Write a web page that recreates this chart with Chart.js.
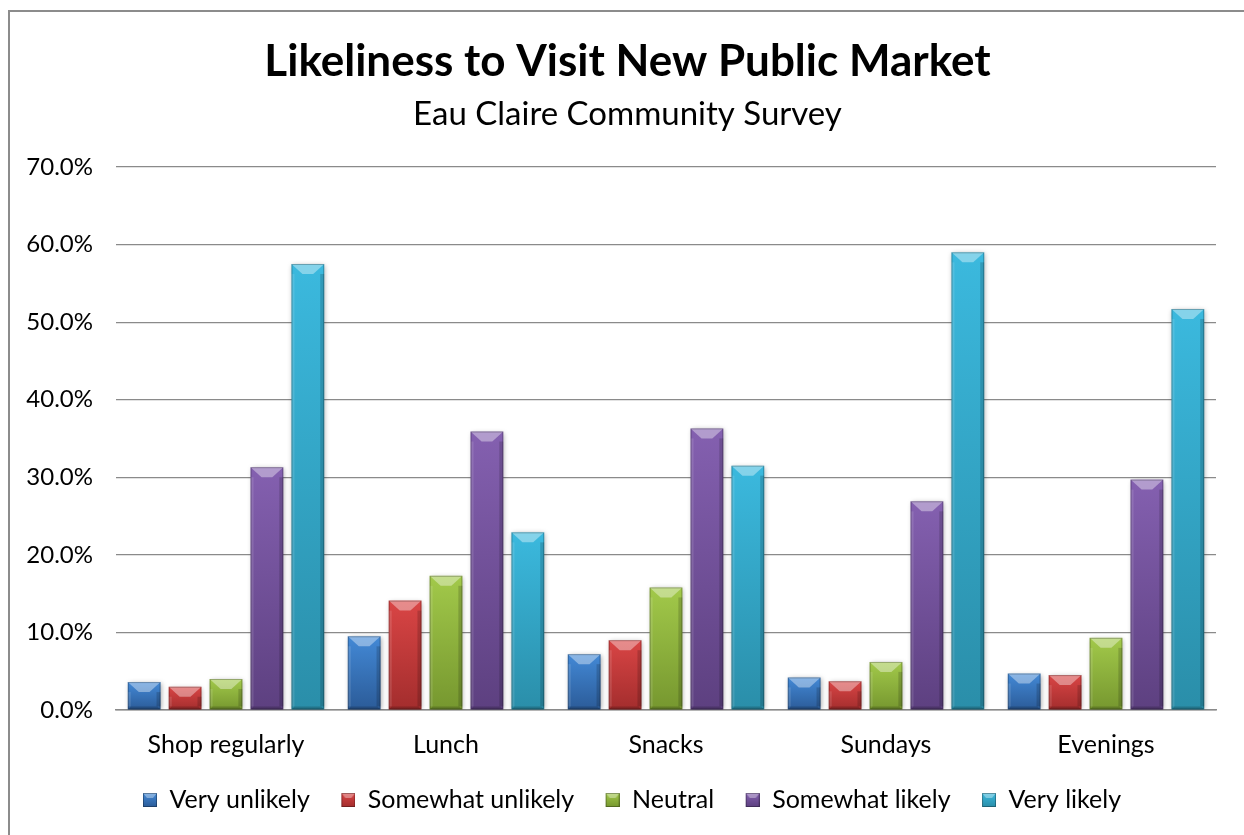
<!DOCTYPE html>
<html lang="en">
<head>
  <meta charset="UTF-8" />
  <title>Likeliness to Visit New Public Market</title>
  <script src="https://cdn.jsdelivr.net/npm/chart.js"></script>
  <style>
    body {
      margin: 0;
      background: #fff;
      overflow: hidden;
    }
    #frame {
      position: absolute;
      left: 8px;
      top: 10px;
      width: 1300px;
      height: 900px;
      border-left: 2px solid #8c8c8c;
      border-top: 2px solid #8c8c8c;
      pointer-events: none;
    }
    #wrap {
      position: absolute;
      left: 0;
      top: 0;
      width: 1244px;
      height: 835px;
    }
  </style>
</head>
<body>
  <div id="wrap"><canvas id="marketChart"></canvas></div>
  <div id="frame"></div>

  <script>
    const categories = ["Shop regularly", "Lunch", "Snacks", "Sundays", "Evenings"];
    const seriesNames = ["Very unlikely", "Somewhat unlikely", "Neutral", "Somewhat likely", "Very likely"];

    // percent of respondents
    const veryUnlikely     = [3.6, 9.5, 7.2, 4.2, 4.7];
    const somewhatUnlikely = [3.0, 14.1, 9.0, 3.7, 4.5];
    const neutral          = [4.0, 17.3, 15.8, 6.2, 9.3];
    const somewhatLikely   = [31.3, 35.9, 36.3, 26.9, 29.7];
    const veryLikely       = [57.5, 22.9, 31.5, 59.0, 51.7];

    const yMax = 70;
    const yStep = 10;

    // light / dark shade per series
    const shades = [
      ["#4389d6", "#2b5b98"],
      ["#d94545", "#a32d2d"],
      ["#a2c94a", "#76972f"],
      ["#8460b0", "#5d4080"],
      ["#3bb9de", "#2a8ea9"]
    ];

    const FONT = "Lato, 'Open Sans', sans-serif";
    const SWATCH = 14;
    const SWATCH_LEAD = 16; // empty space in front of each legend square

    function barGradient(ctx, top, bottom, i) {
      const g = ctx.createLinearGradient(0, top, 0, bottom);
      g.addColorStop(0, shades[i][0]);
      g.addColorStop(1, shades[i][1]);
      return g;
    }

    // bevelled box shape: light top face, thin side edges, dark foot
    function drawBevel(ctx, x0, x1, top, bottom) {
      const h = bottom - top;
      const w = x1 - x0;
      const bh = Math.min(10, h / 2);
      const bw = Math.min(11, w / 2 - 2);
      ctx.save();
      ctx.fillStyle = "rgba(255,255,255,0.38)";
      ctx.beginPath();
      ctx.moveTo(x0, top);
      ctx.lineTo(x1, top);
      ctx.lineTo(x1 - bw, top + bh);
      ctx.lineTo(x0 + bw, top + bh);
      ctx.closePath();
      ctx.fill();

      ctx.fillStyle = "rgba(255,255,255,0.12)";
      ctx.fillRect(x0, top + bh, 3, Math.max(0, h - bh - 3));
      ctx.fillStyle = "rgba(0,0,0,0.16)";
      ctx.fillRect(x1 - 4, top + bh, 4, Math.max(0, h - bh - 3));

      ctx.fillStyle = "rgba(0,0,0,0.18)";
      ctx.beginPath();
      ctx.moveTo(x0, bottom);
      ctx.lineTo(x1, bottom);
      ctx.lineTo(x1 - 3, bottom - 3);
      ctx.lineTo(x0 + 3, bottom - 3);
      ctx.closePath();
      ctx.fill();

      ctx.strokeStyle = "rgba(0,0,0,0.25)";
      ctx.lineWidth = 1;
      ctx.strokeRect(x0 + 0.5, top + 0.5, w - 1, h - 1);
      ctx.restore();
    }

    // legend swatch with the same look as the bars, square sits at the right
    function makeSwatch(i) {
      const c = document.createElement("canvas");
      c.width = SWATCH_LEAD + SWATCH;
      c.height = SWATCH;
      const cx = c.getContext("2d");
      cx.translate(SWATCH_LEAD, 0);
      cx.fillStyle = barGradient(cx, 0, SWATCH, i);
      cx.fillRect(0, 0, SWATCH, SWATCH);
      cx.fillStyle = "rgba(255,255,255,0.35)";
      cx.beginPath();
      cx.moveTo(0, 0); cx.lineTo(14, 0); cx.lineTo(10, 5); cx.lineTo(4, 5);
      cx.closePath();
      cx.fill();
      cx.strokeStyle = "rgba(0,0,0,0.3)";
      cx.strokeRect(0.5, 0.5, 13, 13);
      return c;
    }
    const swatches = seriesNames.map((_, i) => makeSwatch(i));

    const bevelPlugin = {
      id: "bevelBars",
      beforeDatasetsDraw(chart) {
        const ctx = chart.ctx;
        ctx.save();
        ctx.shadowColor = "rgba(0,0,0,0.35)";
        ctx.shadowBlur = 5;
        ctx.shadowOffsetX = 1;
        ctx.shadowOffsetY = 1;
      },
      afterDatasetsDraw(chart) {
        const ctx = chart.ctx;
        ctx.restore();
        chart.data.datasets.forEach((ds, di) => {
          chart.getDatasetMeta(di).data.forEach(bar => {
            const p = bar.getProps(["x", "y", "base", "width"], true);
            drawBevel(ctx, p.x - p.width / 2, p.x + p.width / 2, p.y, p.base);
          });
        });
      }
    };

    // headings and legend are centred on the whole frame, not on the plot
    const centerShift = {
      id: "centerShift",
      afterLayout(chart) {
        chart.boxes.forEach(b => {
          if (b instanceof Chart.Scale) return;
          const dx = b.position === "bottom" ? 16 : 19.5;
          b.left += dx;
          b.right += dx;
        });
      }
    };

    const allSeries = [veryUnlikely, somewhatUnlikely, neutral, somewhatLikely, veryLikely];

    const datasets = allSeries.map((values, i) => ({
      label: seriesNames[i],
      data: values,
      backgroundColor: (c) => {
        const chart = c.chart;
        const y = chart.scales && chart.scales.y;
        if (!y || c.parsed === undefined || c.type !== "data") return shades[i][0];
        const top = y.getPixelForValue(c.parsed.y);
        const bottom = y.getPixelForValue(0);
        if (!isFinite(top) || bottom - top < 1) return shades[i][0];
        return barGradient(chart.ctx, top, bottom, i);
      },
      borderWidth: 0,
      categoryPercentage: 0.93,
      barPercentage: 0.8
    }));

    const ctx = document.getElementById("marketChart").getContext("2d");
    new Chart(ctx, {
      type: "bar",
      data: { labels: categories, datasets: datasets },
      plugins: [bevelPlugin, centerShift],
      options: {
        responsive: true,
        maintainAspectRatio: false,
        animation: false,
        layout: { padding: { left: 0, right: 28, bottom: 12.5 } },
        plugins: {
          title: {
            display: true,
            text: "Likeliness to Visit New Public Market",
            color: "#000",
            font: { family: FONT, size: 44, weight: "bold" },
            padding: { top: 35.6, bottom: 6 }
          },
          subtitle: {
            display: true,
            text: "Eau Claire Community Survey",
            color: "#000",
            font: { family: FONT, size: 33 },
            padding: { top: 0, bottom: 33 }
          },
          legend: {
            position: "bottom",
            labels: {
              color: "#000",
              font: { family: FONT, size: 25 },
              usePointStyle: true,
              pointStyleWidth: SWATCH_LEAD + SWATCH,
              boxHeight: SWATCH,
              padding: 15.5,
              generateLabels: (chart) => chart.data.datasets.map((ds, i) => ({
                text: ds.label,
                pointStyle: swatches[i],
                fillStyle: shades[i][0],
                strokeStyle: shades[i][1],
                lineWidth: 0,
                hidden: false,
                datasetIndex: i
              }))
            }
          },
          tooltip: { enabled: false }
        },
        scales: {
          x: {
            grid: { display: false },
            border: { display: true, color: "#8a8a8a", width: 1.5 },
            ticks: {
              color: "#000",
              font: { family: FONT, size: 25 },
              padding: 12
            }
          },
          y: {
            min: 0,
            max: yMax,
            afterFit: (scale) => { scale.width = 116; },
            grid: { color: "#8a8a8a", lineWidth: 1.2, drawTicks: false },
            border: { display: false },
            ticks: {
              stepSize: yStep,
              color: "#000",
              font: { family: FONT, size: 24 },
              padding: 23,
              callback: (v) => v.toFixed(1) + "%"
            }
          }
        }
      }
    });
  </script>
</body>
</html>
